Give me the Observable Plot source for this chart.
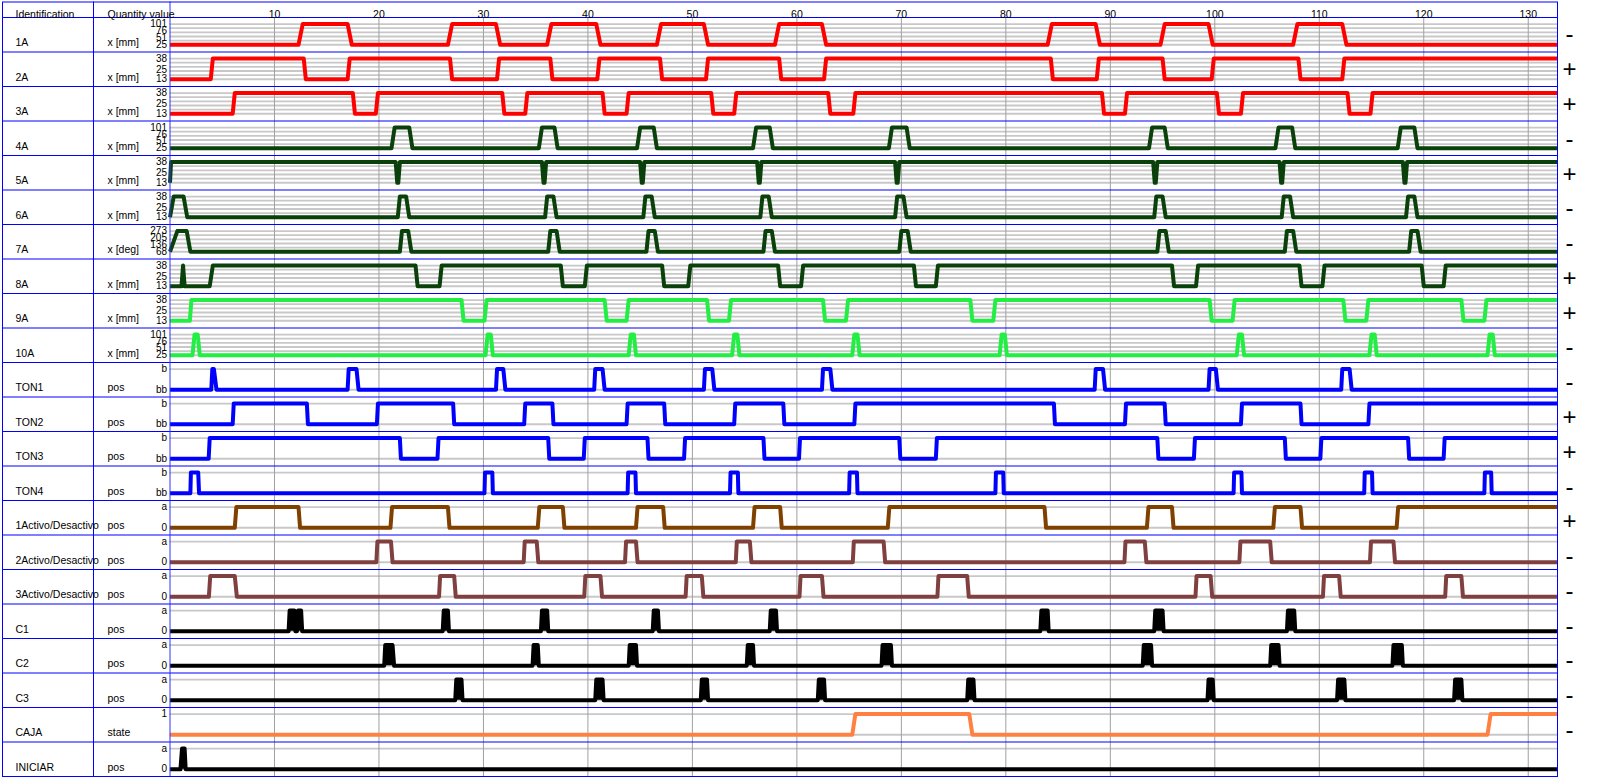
<!DOCTYPE html>
<html>
<head>
<meta charset="utf-8">
<script src="https://cdn.jsdelivr.net/npm/d3@7"></script>
<script src="https://cdn.jsdelivr.net/npm/@observablehq/plot@0.6"></script>
<style>
  html, body { margin: 0; padding: 0; background: #fff; }
  #chart svg { display: block; }
</style>
</head>
<body>
<div id="chart"></div>
<script>
// ---------- categories / labels ----------
const xTicks = [10, 20, 30, 40, 50, 60, 70, 80, 90, 100, 110, 120, 130];
const rowNames = ["1A","2A","3A","4A","5A","6A","7A","8A","9A","10A","TON1","TON2","TON3","TON4",
  "1Activo/Desactivo","2Activo/Desactivo","3Activo/Desactivo","C1","C2","C3","CAJA","INICIAR"];
const rowUnits = ["x [mm]","x [mm]","x [mm]","x [mm]","x [mm]","x [mm]","x [deg]","x [mm]","x [mm]","x [mm]",
  "pos","pos","pos","pos","pos","pos","pos","pos","pos","pos","state","pos"];
const rowLow  = [25,13,13,25,13,13,68,13,13,25, 0,0,0,0, 0,0,0, 0,0,0, 0,0];
const rowHigh = [101,38,38,101,38,38,273,38,38,101, 1,1,1,1, 1,1,1, 1,1,1, 1,1];
const rowSigns = ["-","+","+","-","+","-","-","+","+","-","-","+","+","-","+","-","-","-","-","-","-",""];
const ticks101 = [[101,"101"],[76,"76"],[51,"51"],[25,"25"]];
const ticks38  = [[38,"38"],[25,"25"],[13,"13"]];
const ticks273 = [[273,"273"],[205,"205"],[136,"136"],[68,"68"]];
const ticksB   = [[1,"b"],[0,"bb"]];
const ticksA   = [[1,"a"],[0,"0"]];
const ticksState = [[1,"1"]];
const rowTicks = [ticks101,ticks38,ticks38,ticks101,ticks38,ticks38,ticks273,ticks38,ticks38,ticks101,
  ticksB,ticksB,ticksB,ticksB,ticksA,ticksA,ticksA,ticksA,ticksA,ticksA,ticksState,ticksA];

// ---------- series values: [time, value] ----------
const s1A = [[0,25],[12.3,25],[12.7,101],[17.0,101],[17.4,25],[26.6,25],[27.0,101],[31.2,101],[31.6,25],
  [36.1,25],[36.5,101],[40.8,101],[41.2,25],[46.6,25],[47.0,101],[51.1,101],[51.5,25],[57.9,25],[58.3,101],
  [62.4,101],[62.8,25],[84.0,25],[84.4,101],[88.6,101],[89.0,25],[94.8,25],[95.2,101],[99.4,101],[99.8,25],
  [107.5,25],[107.9,101],[112.2,101],[112.6,25],[132.8,25]];
const s2A = [[0,13],[3.9,13],[4.1,38],[12.8,38],[13.0,13],[17.0,13],[17.2,38],[26.8,38],[27.0,13],[31.3,13],
  [31.5,38],[36.4,38],[36.6,13],[40.9,13],[41.1,38],[46.9,38],[47.1,13],[51.3,13],[51.5,38],[58.3,38],[58.5,13],
  [62.6,13],[62.8,38],[84.3,38],[84.5,13],[88.7,13],[88.9,38],[95.0,38],[95.2,13],[99.7,13],[99.9,38],
  [108.0,38],[108.2,13],[112.2,13],[112.4,38],[132.8,38]];
const s3A = [[0,13],[6.0,13],[6.2,38],[17.5,38],[17.7,13],[19.7,13],[19.9,38],[31.8,38],[32.0,13],[34.0,13],
  [34.2,38],[41.4,38],[41.6,13],[43.7,13],[43.9,38],[51.8,38],[52.0,13],[54.0,13],[54.2,38],[63.0,38],[63.2,13],
  [65.4,13],[65.6,38],[89.2,38],[89.4,13],[91.4,13],[91.6,38],[100.2,38],[100.4,13],[102.5,13],[102.7,38],
  [112.7,38],[112.9,13],[114.9,13],[115.1,38],[132.8,38]];
const s4A = [[0,25],[21.2,25],[21.5,101],[22.9,101],[23.2,25],[35.3,25],[35.6,101],[36.8,101],[37.1,25],
  [44.7,25],[45.0,101],[46.3,101],[46.6,25],[55.8,25],[56.1,101],[57.4,101],[57.7,25],[68.8,25],[69.1,101],
  [70.5,101],[70.8,25],[93.7,25],[94.0,101],[95.2,101],[95.5,25],[105.8,25],[106.1,101],[107.4,101],[107.7,25],
  [117.5,25],[117.8,101],[119.1,101],[119.4,25],[132.8,25]];
const s5A = [[0,13],[0.1,38],[21.6,38],[21.75,13],[21.85,13],[22.0,38],[35.6,38],[35.75,13],[35.85,13],[36.0,38],
  [45.0,38],[45.15,13],[45.25,13],[45.4,38],[56.2,38],[56.35,13],[56.45,13],[56.6,38],[69.4,38],[69.55,13],
  [69.65,13],[69.8,38],[94.1,38],[94.25,13],[94.35,13],[94.5,38],[106.2,38],[106.35,13],[106.45,13],[106.6,38],
  [118.0,38],[118.15,13],[118.25,13],[118.4,38],[132.8,38]];
const s6A = [[0,13],[0.35,38],[1.3,38],[1.65,13],[21.8,13],[22.0,38],[22.6,38],[22.9,13],[35.9,13],[36.1,38],
  [36.7,38],[37.0,13],[45.3,13],[45.5,38],[46.1,38],[46.4,13],[56.5,13],[56.7,38],[57.3,38],[57.6,13],
  [69.4,13],[69.6,38],[70.2,38],[70.5,13],[94.2,13],[94.4,38],[95.0,38],[95.3,13],[106.4,13],[106.6,38],
  [107.2,38],[107.5,13],[118.3,13],[118.5,38],[119.1,38],[119.4,13],[132.8,13]];
const s7A = [[0,68],[0.7,273],[1.6,273],[1.95,68],[22.0,68],[22.2,273],[22.8,273],[23.1,68],[36.2,68],[36.4,273],
  [37.0,273],[37.3,68],[45.6,68],[45.8,273],[46.4,273],[46.7,68],[56.8,68],[57.0,273],[57.6,273],[57.9,68],
  [69.8,68],[70.0,273],[70.6,273],[70.9,68],[94.5,68],[94.7,273],[95.3,273],[95.6,68],[106.7,68],[106.9,273],
  [107.5,273],[107.8,68],[118.6,68],[118.8,273],[119.4,273],[119.7,68],[132.8,68]];
const s8A = [[0,13],[1.1,13],[1.25,38],[1.4,13],[3.8,13],[4.1,38],[23.5,38],[23.7,13],[25.8,13],[26.0,38],
  [37.4,38],[37.6,13],[39.7,13],[39.9,38],[47.1,38],[47.3,13],[49.6,13],[49.8,38],[58.2,38],[58.4,13],[60.4,13],
  [60.6,38],[71.2,38],[71.4,13],[73.3,13],[73.5,38],[95.9,38],[96.1,13],[98.2,13],[98.4,38],[108.1,38],[108.3,13],
  [110.3,13],[110.5,38],[119.8,38],[120.0,13],[121.9,13],[122.1,38],[132.8,38]];
const s9A = [[0,13],[1.9,13],[2.05,38],[27.9,38],[28.1,13],[30.1,13],[30.3,38],[41.6,38],[41.8,13],[43.7,13],
  [43.9,38],[51.4,38],[51.6,13],[53.5,13],[53.7,38],[62.5,38],[62.7,13],[64.7,13],[64.9,38],[76.6,38],[76.8,13],
  [78.8,13],[79.0,38],[99.5,38],[99.7,13],[101.7,13],[101.9,38],[112.3,38],[112.5,13],[114.5,13],[114.7,38],
  [123.6,38],[123.8,13],[125.8,13],[126.0,38],[132.8,38]];
const s10A = [[0,25],[2.15,25],[2.35,101],[2.65,101],[2.85,25],[30.2,25],[30.4,101],[30.7,101],[30.9,25],
  [43.9,25],[44.1,101],[44.4,101],[44.6,25],[53.8,25],[54.0,101],[54.3,101],[54.5,25],[65.3,25],[65.5,101],
  [65.8,101],[66.0,25],[79.4,25],[79.6,101],[79.9,101],[80.1,25],[102.1,25],[102.3,101],[102.6,101],[102.8,25],
  [114.8,25],[115.0,101],[115.3,101],[115.5,25],[126.1,25],[126.3,101],[126.6,101],[126.8,25],[132.8,25]];
const sTON1 = [[0,0],[3.95,0],[4.05,1],[4.2,1],[4.45,0],[17.0,0],[17.1,1],[17.85,1],[18.05,0],[31.2,0],[31.3,1],
  [31.9,1],[32.1,0],[40.6,0],[40.7,1],[41.4,1],[41.6,0],[51.1,0],[51.2,1],[51.9,1],[52.1,0],[62.4,0],[62.5,1],
  [63.2,1],[63.4,0],[88.5,0],[88.6,1],[89.3,1],[89.5,0],[99.4,0],[99.5,1],[100.1,1],[100.3,0],[112.1,0],
  [112.2,1],[112.9,1],[113.1,0],[132.8,0]];
const sTON2 = [[0,0],[6.0,0],[6.1,1],[13.1,1],[13.2,0],[19.8,0],[19.9,1],[27.1,1],[27.2,0],[33.9,0],[34.0,1],
  [36.6,1],[36.7,0],[43.7,0],[43.8,1],[47.3,1],[47.4,0],[54.0,0],[54.1,1],[58.7,1],[58.8,0],[65.5,0],[65.6,1],
  [84.6,1],[84.7,0],[91.4,0],[91.5,1],[95.2,1],[95.3,0],[102.5,0],[102.6,1],[108.2,1],[108.3,0],[114.7,0],
  [114.8,1],[132.8,1]];
const sTON3 = [[0,0],[3.7,0],[3.8,1],[22.0,1],[22.1,0],[25.6,0],[25.7,1],[36.2,1],[36.3,0],[39.6,0],[39.7,1],
  [45.7,1],[45.8,0],[49.2,0],[49.3,1],[56.8,1],[56.9,0],[60.2,0],[60.3,1],[69.8,1],[69.9,0],[73.3,0],[73.4,1],
  [94.5,1],[94.6,0],[98.0,0],[98.1,1],[106.7,1],[106.8,0],[110.1,0],[110.2,1],[118.5,1],[118.6,0],[121.9,0],
  [122.0,1],[132.8,1]];
const sTON4 = [[0,0],[1.95,0],[2.0,1],[2.7,1],[2.78,0],[30.1,0],[30.15,1],[30.85,1],[30.9,0],[43.8,0],[43.85,1],
  [44.55,1],[44.6,0],[53.6,0],[53.65,1],[54.35,1],[54.4,0],[65.0,0],[65.05,1],[65.75,1],[65.8,0],[79.0,0],
  [79.05,1],[79.75,1],[79.8,0],[101.8,0],[101.85,1],[102.55,1],[102.6,0],[114.3,0],[114.35,1],[115.05,1],
  [115.1,0],[125.8,0],[125.85,1],[126.45,1],[126.5,0],[132.8,0]];
const sAct1 = [[0,0],[6.2,0],[6.35,1],[12.3,1],[12.45,0],[21.1,0],[21.25,1],[26.6,1],[26.75,0],[35.2,0],[35.35,1],
  [37.6,1],[37.75,0],[44.6,0],[44.75,1],[47.2,1],[47.35,0],[55.8,0],[55.95,1],[58.4,1],[58.55,0],[68.7,0],
  [68.85,1],[83.7,1],[83.85,0],[93.5,0],[93.65,1],[95.9,1],[96.05,0],[105.6,0],[105.75,1],[108.2,1],[108.35,0],
  [117.4,0],[117.55,1],[132.8,1]];
const sAct2 = [[0,0],[19.75,0],[19.85,1],[21.15,1],[21.3,0],[33.85,0],[33.95,1],[35.1,1],[35.25,0],[43.55,0],
  [43.65,1],[44.6,1],[44.75,0],[54.15,0],[54.25,1],[55.5,1],[55.65,0],[65.35,0],[65.45,1],[68.3,1],[68.45,0],
  [91.35,0],[91.45,1],[93.3,1],[93.45,0],[102.35,0],[102.45,1],[105.3,1],[105.45,0],[114.85,0],[114.95,1],
  [117.1,1],[117.25,0],[132.8,0]];
const sAct3 = [[0,0],[3.72,0],[3.85,1],[6.2,1],[6.4,0],[25.75,0],[25.85,1],[27.2,1],[27.35,0],[39.65,0],[39.75,1],
  [41.2,1],[41.35,0],[49.35,0],[49.45,1],[50.9,1],[51.05,0],[60.25,0],[60.35,1],[62.4,1],[62.55,0],[73.45,0],
  [73.55,1],[76.3,1],[76.45,0],[98.15,0],[98.25,1],[99.6,1],[99.75,0],[110.35,0],[110.45,1],[111.9,1],[112.05,0],
  [122.05,0],[122.15,1],[123.6,1],[123.75,0],[132.8,0]];
const sC1 = [[0,0],[11.35,0],[11.45,1],[11.9,1],[12.0,0],[12.15,0],[12.25,1],[12.55,1],[12.65,0],[26.1,0],[26.2,1],
  [26.6,1],[26.7,0],[35.5,0],[35.6,1],[36.1,1],[36.2,0],[46.2,0],[46.3,1],[46.7,1],[46.8,0],[57.4,0],[57.5,1],
  [58.0,1],[58.1,0],[83.3,0],[83.4,1],[84.0,1],[84.1,0],[94.2,0],[94.3,1],[95.0,1],[95.1,0],[106.9,0],[107.0,1],
  [107.6,1],[107.7,0],[132.8,0]];
const sC2 = [[0,0],[20.5,0],[20.6,1],[21.3,1],[21.45,0],[34.7,0],[34.8,1],[35.2,1],[35.3,0],[43.9,0],[44.0,1],
  [44.6,1],[44.7,0],[55.2,0],[55.3,1],[55.8,1],[55.9,0],[68.1,0],[68.2,1],[69.0,1],[69.1,0],[93.1,0],[93.2,1],
  [93.9,1],[94.0,0],[105.3,0],[105.4,1],[106.1,1],[106.2,0],[117.0,0],[117.1,1],[117.9,1],[118.0,0],[132.8,0]];
const sC3 = [[0,0],[27.3,0],[27.4,1],[27.9,1],[28.0,0],[40.7,0],[40.8,1],[41.4,1],[41.5,0],[50.8,0],[50.9,1],
  [51.4,1],[51.5,0],[62.0,0],[62.1,1],[62.6,1],[62.7,0],[76.3,0],[76.4,1],[76.9,1],[77.0,0],[99.3,0],[99.4,1],
  [99.8,1],[99.9,0],[111.7,0],[111.8,1],[112.4,1],[112.5,0],[122.9,0],[123.0,1],[123.6,1],[123.7,0],[132.8,0]];
const sCAJA = [[0,0],[65.3,0],[65.6,1],[76.5,1],[76.8,0],[126.1,0],[126.4,1],[132.8,1]];
const sINICIAR = [[0,0],[1.0,0],[1.15,1],[1.4,1],[1.5,0],[132.8,0]];

const series = [s1A,s2A,s3A,s4A,s5A,s6A,s7A,s8A,s9A,s10A,sTON1,sTON2,sTON3,sTON4,sAct1,sAct2,sAct3,sC1,sC2,sC3,sCAJA,sINICIAR];
const filledRows = [17, 18, 19, 21]; // C1, C2, C3, INICIAR pulses drawn solid

// ---------- styling ----------
const rowColors = ["#ff0000","#ff0000","#ff0000","#0a400a","#0a400a","#0a400a","#0a400a","#0a400a","#22ee44","#22ee44",
  "#0000ff","#0000ff","#0000ff","#0000ff","#804000","#804040","#804040","#000000","#000000","#000000","#ff8040","#000000"];
const LOWF = 0.79, SPAN = 0.6;   // layout of a lane inside its row
const rowY = (i, v) => i + LOWF - SPAN * (v - rowLow[i]) / (rowHigh[i] - rowLow[i]);

const gridLevels6 = [0, 0.2, 0.4, 0.6, 0.8, 1];
const gridLevels2 = [0, 1];
const gridData = [];
rowNames.forEach((n, i) => {
  const lv = i < 10 ? gridLevels6 : gridLevels2;
  lv.forEach(f => gridData.push({y: i + LOWF - SPAN * f}));
});

const tickData = [];
rowTicks.forEach((tk, i) => tk.forEach(([v, lab]) => tickData.push({y: rowY(i, v), label: lab})));

const lineMarks = series.map((pts, i) =>
  Plot.line(pts.map(([t, v]) => ({t, y: rowY(i, v)})),
    {x: "t", y: "y", stroke: rowColors[i], strokeWidth: 4, strokeLinejoin: "round", strokeLinecap: "butt"}));
const fillMarks = filledRows.map(i =>
  Plot.areaY(series[i].map(([t, v]) => ({t, y: rowY(i, v), y0: rowY(i, rowLow[i])})),
    {x: "t", y1: "y0", y2: "y", fill: rowColors[i]}));

const plot = Plot.plot({
  width: 1604, height: 784,
  marginLeft: 2, marginRight: 47, marginTop: 1.5, marginBottom: 8,
  x: {domain: [0, 132.8], range: [169.5, 1557], axis: null},
  y: {domain: [0, 22], range: [17, 776], axis: null},
  style: {fontFamily: "'Liberation Sans', Arial, sans-serif", fontSize: "10.5px", background: "#fff", color: "#000"},
  marks: [
    Plot.ruleY(gridData, {y: "y", x1: 0, x2: 132.8, stroke: "#c8c8c8", strokeWidth: 1.8}),
    Plot.ruleX(xTicks, {x: d => d, y1: 0, y2: 22, stroke: "#a0a0a0"}),
    ...fillMarks,
    ...lineMarks,
    Plot.ruleY(d3.range(0, 23), {y: d => d, stroke: "#0000ff"}),
    Plot.ruleX([0], {x: d => d, stroke: "#3030ff"}),
    Plot.ruleX([0], {x: d => d, dx: -76.5, stroke: "#0000ff"}),
    Plot.frame({stroke: "#0000ff"}),
    Plot.text(["Identification"], {frameAnchor: "top-left", dx: 13, dy: 8.5, text: d => d, textAnchor: "start", fill: "#000"}),
    Plot.text(["Quantity value"], {frameAnchor: "top-left", dx: 105, dy: 8.5, text: d => d, textAnchor: "start", fill: "#000"}),
    Plot.text(xTicks, {x: d => d, frameAnchor: "top", dy: 8.5, text: d => String(d), fontSize: 10.5, fill: "#000"}),
    Plot.text(rowNames, {frameAnchor: "left", y: (d, i) => i + 0.73, dx: 13, text: d => d, textAnchor: "start", fill: "#000"}),
    Plot.text(rowUnits, {frameAnchor: "left", y: (d, i) => i + 0.73, dx: 105, text: d => d, textAnchor: "start", fill: "#000"}),
    Plot.text(tickData, {x: d => 0, y: "y", text: "label", dx: -3, textAnchor: "end", fontSize: 10, fill: "#000"}),
    Plot.text(rowSigns, {frameAnchor: "right", y: (d, i) => i + 0.5 + i * 0.008, dx: 12, text: d => d, fontSize: 24, textAnchor: "middle", fill: "#000"})
  ]
});
document.getElementById("chart").appendChild(plot);
</script>
</body>
</html>
